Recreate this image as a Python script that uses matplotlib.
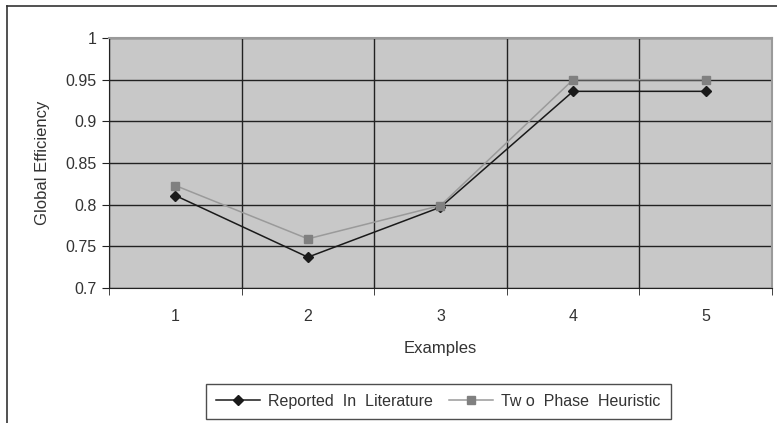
import matplotlib.pyplot as plt
from matplotlib.lines import Line2D

plt.rcParams['font.family'] = ['Liberation Sans', 'DejaVu Sans']

examples = [1, 2, 3, 4, 5]
reported = [0.811, 0.737, 0.797, 0.936, 0.936]
two_phase = [0.823, 0.759, 0.799, 0.950, 0.950]
yticks = [0.7, 0.75, 0.8, 0.85, 0.9, 0.95, 1.0]
ytick_labels = ['0.7', '0.75', '0.8', '0.85', '0.9', '0.95', '1']

fig = plt.figure(figsize=(7.77, 4.23), dpi=100)
ax = fig.add_axes([109 / 777, 135 / 423, 663 / 777, 250 / 423])
ax.set_facecolor('#c8c8c8')

ax.plot(examples, reported, color='#1a1a1a', lw=1.1, marker='D', ms=5.5,
        label='Reported  In  Literature')
ax.plot(examples, two_phase, color='#9a9a9a', lw=1.1, marker='s', ms=6,
        mfc='#808080', mec='#808080', label='Tw o  Phase  Heuristic')

ax.set_xlim(0.5, 5.5)
ax.set_ylim(0.7, 1.0)
ax.set_yticks(yticks)
ax.set_yticklabels(ytick_labels)
ax.set_xticks(examples)
ax.set_xticks([0.5, 1.5, 2.5, 3.5, 4.5, 5.5], minor=True)
ax.tick_params(axis='x', which='major', length=0, pad=15, labelsize=11.5, colors='#333333')
ax.tick_params(axis='x', which='minor', length=5, color='#222222')
ax.tick_params(axis='y', length=5, pad=4, labelsize=11.5, colors='#333333', color='#222222')

ax.grid(True, axis='y', which='major', color='#222222', lw=1)
ax.grid(True, axis='x', which='minor', color='#222222', lw=1)
ax.set_axisbelow(True)

for s in ['left', 'bottom']:
    ax.spines[s].set_color('#222222')
for s in ['top', 'right']:
    ax.spines[s].set_color('#9a9a9a')
    ax.spines[s].set_linewidth(1.5)

ax.set_ylabel('Global Efficiency', fontsize=12, color='#333333', labelpad=11)
ax.set_xlabel('Examples', fontsize=12, color='#333333', labelpad=12)

# outer chart frame (only top and left visible in the crop)
fig.add_artist(Line2D([7 / 777, 1], [1 - 6 / 423, 1 - 6 / 423], color='#333333', lw=1.2))
fig.add_artist(Line2D([7 / 777, 7 / 777], [0, 1 - 6 / 423], color='#333333', lw=1.2))

leg = fig.legend(loc='center', bbox_to_anchor=(438.5 / 777, 1 - 401.5 / 423), ncol=2,
                 frameon=True, fancybox=False, edgecolor='#222222', fontsize=11.5,
                 handlelength=2.75, columnspacing=1.0, handletextpad=0.5,
                 borderpad=0.65, borderaxespad=0)
leg.get_frame().set_linewidth(1)
for t in leg.get_texts():
    t.set_color('#333333')

fig.savefig('out.png', dpi=100)
